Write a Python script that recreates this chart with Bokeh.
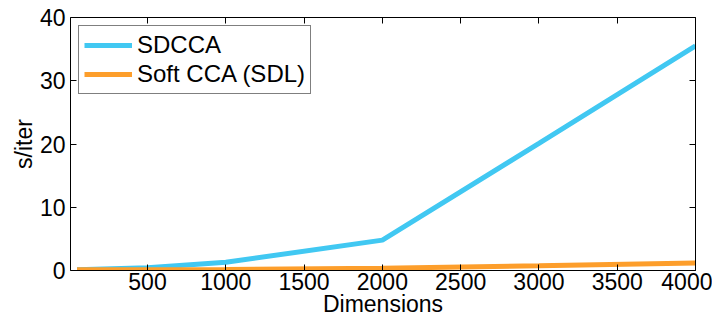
from bokeh.plotting import figure
from bokeh.models import Range1d, LinearAxis, FixedTicker, Legend, LegendItem
from bokeh.embed import file_html
from bokeh.resources import INLINE

# Data
dims_sdcca = [50, 500, 1000, 2000, 3000, 4000]
sdcca = [0.1, 0.45, 1.3, 4.8, 20.1, 35.5]
dims_soft = [50, 500, 1000, 2000, 3000, 4000]
soft_cca = [0.1, 0.12, 0.15, 0.35, 0.75, 1.2]
x_ticks = [500, 1000, 1500, 2000, 2500, 3000, 3500, 4000]
y_ticks = [0, 10, 20, 30, 40]

FONT = "Liberation Sans"
BLUE = "#41C8F2"
ORANGE = "#FD9E2B"

p = figure(width=712, height=319, output_backend="svg", toolbar_location=None,
           x_range=Range1d(8, 4000), y_range=Range1d(0, 40),
           min_border_left=70, min_border_right=17, min_border_top=17,
           min_border_bottom=0)
p.grid.visible = False
p.outline_line_color = None
p.background_fill_color = "white"

r1 = p.line(dims_sdcca, sdcca, line_color=BLUE, line_width=5)
r2 = p.line(dims_soft, soft_cca, line_color=ORANGE, line_width=5)

def style_axis(ax, labels=True):
    ax.axis_line_color = "black"
    ax.axis_line_width = 1
    ax.major_tick_in = 6
    ax.major_tick_out = 0
    ax.minor_tick_line_color = None
    ax.major_tick_line_color = "black"
    ax.major_label_text_font = FONT
    if labels:
        ax.major_label_text_font_size = "23px"
        ax.major_label_text_color = "black"
    else:
        ax.major_label_text_font_size = "0px"
        ax.major_label_text_color = None
        ax.major_label_standoff = 0

p.xaxis.ticker = FixedTicker(ticks=x_ticks)
p.yaxis.ticker = FixedTicker(ticks=y_ticks)
style_axis(p.xaxis[0])
style_axis(p.yaxis[0])
p.xaxis.major_label_standoff = 2
p.yaxis.major_label_standoff = 5
p.xaxis.axis_label = "Dimensions"
p.yaxis.axis_label = "s/iter"
for ax in (p.xaxis[0], p.yaxis[0]):
    ax.axis_label_text_font = FONT
    ax.axis_label_text_font_size = "23px"
    ax.axis_label_text_font_style = "normal"
    ax.axis_label_text_color = "black"
p.xaxis.axis_label_standoff = -2
p.yaxis.axis_label_standoff = 0

top = LinearAxis(ticker=FixedTicker(ticks=x_ticks))
right = LinearAxis(ticker=FixedTicker(ticks=y_ticks))
style_axis(top, labels=False)
style_axis(right, labels=False)
p.add_layout(top, "above")
p.add_layout(right, "right")

legend = Legend(items=[LegendItem(label="SDCCA", renderers=[r1]),
                       LegendItem(label="Soft CCA (SDL)", renderers=[r2])],
                location="top_left", margin=8, padding=5, spacing=1,
                label_height=24, glyph_height=24, glyph_width=48,
                label_standoff=5, border_line_color="black", border_line_width=1,
                label_text_font=FONT, label_text_font_size="24px",
                label_text_color="black", background_fill_alpha=1)
p.add_layout(legend, "center")

open("out.html", "w").write(file_html(p, INLINE))
